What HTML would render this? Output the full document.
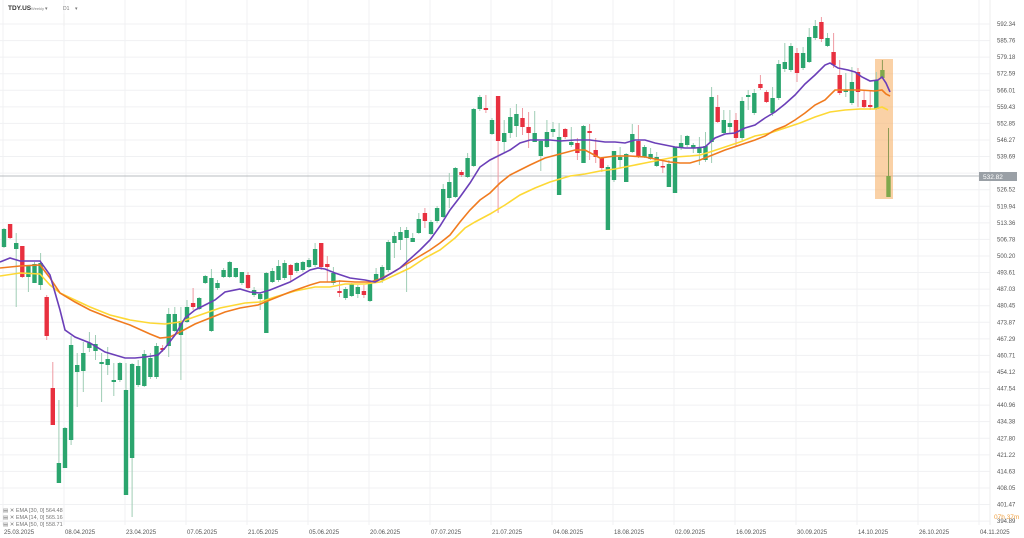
<!DOCTYPE html>
<html><head><meta charset="utf-8"><style>
html,body{margin:0;padding:0;background:#fff;}
svg{display:block;font-family:"Liberation Sans",sans-serif;}
</style></head><body>
<svg id="s" width="1024" height="538" viewBox="0 0 1024 538" xmlns="http://www.w3.org/2000/svg">
<rect width="1024" height="538" fill="#fff"/>
<g id="grid"></g>
<line x1="0" y1="176" x2="990" y2="176" stroke="#b9bcc0" stroke-width="1"/>
<rect x="875" y="59" width="18" height="140" fill="#f7b26b" opacity="0.6"/>
<g id="candles"></g>
<polyline id="yel" fill="none" stroke="#fdd835" stroke-width="1.6"/>
<polyline id="ora" fill="none" stroke="#f07b1f" stroke-width="1.6"/>
<polyline id="pur" fill="none" stroke="#6b3fb8" stroke-width="1.6"/>
<g id="axis" font-size="6" fill="#555"></g>
<rect x="979" y="172" width="38" height="9" fill="#9aa0a6"/>
<text x="983" y="179" font-size="6.5" fill="#fff">532.82</text>
<text x="8" y="10" font-size="6.5" font-weight="bold" fill="#333">TDY.US</text>
<text x="31" y="10" font-size="4" fill="#888">Weekly</text>
<text x="45" y="10" font-size="5" fill="#777">▾</text>
<text x="63" y="10" font-size="5" fill="#777">D1</text>
<text x="75" y="10" font-size="5" fill="#777">▾</text>
<line x1="64" y1="14" x2="64" y2="26" stroke="#eee"/>
<text x="3" y="512" font-size="5.5" fill="#777">▤ ✕ EMA [30, 0] 564.48</text>
<text x="3" y="519" font-size="5.5" fill="#777">▤ ✕ EMA [14, 0] 565.16</text>
<text x="3" y="526" font-size="5.5" fill="#777">▤ ✕ EMA [50, 0] 558.71</text>
<text x="994" y="519" font-size="6.5" fill="#f0a040">07h 37m</text>
</svg>
<script>
var NS="http://www.w3.org/2000/svg";
function el(t,a,p){var e=document.createElementNS(NS,t);for(var k in a)e.setAttribute(k,a[k]);p.appendChild(e);return e;}
var grid=document.getElementById('grid'),axis=document.getElementById('axis');
for(var k=0;k<=30;k++){var y=24+16.57*k;el('line',{x1:0,y1:y,x2:990,y2:y,stroke:'#f0f1f3','stroke-width':1},grid);
if(k==9)continue;var t=el('text',{x:997,y:y+2,'font-size':6},axis);t.textContent=(592.34-6.5817*k).toFixed(2);}
var dates=["25.03.2025","08.04.2025","23.04.2025","07.05.2025","21.05.2025","05.06.2025","20.06.2025","07.07.2025","21.07.2025","04.08.2025","18.08.2025","02.09.2025","16.09.2025","30.09.2025","14.10.2025","26.10.2025","04.11.2025"];
for(var i=0;i<dates.length;i++){var x=3+61*i;el('line',{x1:x,y1:0,x2:x,y2:525,stroke:'#f0f1f3'},grid);var t=el('text',{x:x+1,y:534,'font-size':6},axis);t.textContent=dates[i];}
el('line',{x1:990,y1:0,x2:990,y2:525,stroke:'#eee'},grid);
var C=[
['g',229,247,228,248],['r',224,238,224,239],['g',243,249,233,307],['r',246,277,246,278],['g',265,277,265,292],['g',264,283,262,283],['g',263,285,253,290],['r',297,336,295,340],['r',388,425,362,425],['g',463,483,400,483],
['g',428,468,427,468],['g',345,440,336,445],['g',365,372,353,407],['g',353,371,342,392],['g',343,348,332,352],['g',344,351,335,360],['g',362,364,353,402],['g',359,365,347,375],['g',380,382,363,396],['g',363,380,362,382],
['g',390,495,363,495],['g',364,458,363,517],['g',366,385,360,387],['g',354,386,350,387],['g',358,377,353,379],['g',346,377,343,379],['r',348,350,345,352],['g',314,346,308,357],['g',314,331,307,332],['g',321,335,307,380],
['g',307,322,300,323],['r',303,307,288,310],['g',298,309,297,310],['g',276,283,275,284],['g',278,331,269,332],['g',283,288,280,290],['g',270,277,268,278],['g',262,277,261,278],['g',268,277,268,278],['g',272,283,272,285],
['r',275,288,272,289],['g',290,295,287,297],['g',294,299,292,310],['g',273,333,272,333],['g',271,282,268,283],['g',266,280,260,282],['g',263,278,260,280],['r',265,275,264,282],['g',263,271,262,273],['g',262,270,261,272],
['g',260,267,258,268],['g',249,265,243,267],['r',243,267,243,270],['r',264,267,256,282],['g',273,283,267,285],['r',291,293,280,297],['g',289,298,287,300],['g',284,296,283,297],['g',287,294,285,298],['r',291,295,285,298],
['g',283,301,282,302],['g',274,280,268,282],['g',267,280,265,283],['g',242,270,240,272],['g',236,243,232,258],['g',232,240,227,250],['g',230,238,227,292],['g',238,242,233,242],['g',219,233,213,234],['r',213,221,208,228],
['g',222,234,220,235],['g',208,221,206,223],['g',189,217,184,218],['g',182,198,173,208],['g',168,197,167,198],['r',172,175,170,177],['g',158,177,153,178],['g',109,166,108,167],['g',97,109,95,111],['r',108,110,95,113],
['g',120,134,118,135],['r',96,141,96,213],['g',133,142,120,152],['g',117,133,108,138],['g',114,126,104,137],['r',118,127,108,135],['r',127,133,112,148],['g',133,142,111,142],['g',141,156,140,171],['g',132,147,120,148],
['g',129,132,122,137],['g',137,195,123,195],['r',129,137,128,139],['g',142,145,127,147],['r',143,153,138,160],['g',126,163,125,163],['r',131,133,124,160],['r',150,157,138,163],['r',158,168,157,172],['g',167,230,165,230],
['g',151,180,151,182],['g',157,160,147,168],['g',154,182,153,182],['g',134,152,124,153],['r',141,157,125,158],['g',147,157,145,158],['g',154,159,148,160],['g',157,166,152,167],['r',166,167,160,173],['g',164,187,160,187],
['g',147,193,147,193],['g',143,148,135,150],['g',136,145,135,147],['g',145,148,143,153],['g',147,153,137,165],['g',146,160,132,162],['g',97,142,87,163],['r',107,122,95,123],['g',120,133,110,134],['g',123,127,110,133],
['r',120,138,113,147],['g',101,138,97,140],['g',95,97,90,110],['g',93,113,89,115],['r',84,88,75,90],['r',92,102,90,103],['g',98,113,87,116],['g',64,98,60,100],['g',62,69,43,72],['g',46,70,43,72],
['r',53,73,48,82],['g',53,68,47,70],['g',37,62,28,63],['g',26,38,20,40],['r',22,39,17,42],['g',38,46,33,47],['r',52,65,33,68],['r',75,93,60,95],['g',90,92,73,97],['g',82,103,67,105],
['r',72,92,68,107],['r',100,107,90,108],['r',105,107,90,110],['g',80,109,72,110],['o',70,78,60,78],['o',176,197,128,197]];
var cg=document.getElementById('candles');
for(var i=0;i<C.length;i++){var c=C[i],x=4+i*6.1;
var col=c[0]=='g'?'#2ba56e':c[0]=='r'?'#e8303f':'#7fa84c';
var wc=c[0]=='g'?'#9fcdb5':c[0]=='r'?'#ee9aa2':'#8d9a55';
el('line',{x1:x,y1:c[3],x2:x,y2:c[4],stroke:wc,'stroke-width':1},cg);
el('rect',{x:x-2.2,y:c[1],width:4.4,height:Math.max(1.5,c[2]-c[1]),fill:col},cg);}
function P(id,a){var s=[];for(var i=0;i<a.length;i+=2)s.push(a[i]+','+a[i+1]);document.getElementById(id).setAttribute('points',s.join(' '));}
P('pur',[0,262,10,258,20,261,40,261,50,275,60,310,65,330,75,337,90,343,105,352,115,355,125,358,135,358,145,357,158,355,165,348,175,335,185,318,195,310,205,305,215,300,225,292,240,289,250,292,260,293,270,290,290,282,310,270,318,268,325,269,335,273,350,278,365,280,375,282,385,277,400,268,410,259,420,250,430,240,440,226,450,210,460,197,470,183,480,167,490,160,500,155,510,150,520,143,530,140,540,140,550,140,560,141,575,140,590,140,605,142,615,142,625,143,635,140,645,140,655,143,665,145,675,147,685,148,695,148,705,147,715,138,725,134,735,133,745,128,755,125,765,118,775,112,785,104,795,95,805,84,815,75,825,65,830,63,838,68,848,70,855,72,862,77,870,81,878,80,882,77,886,83,890,92]);
P('ora',[0,268,20,266,40,265,50,278,60,293,75,302,90,310,110,318,130,325,150,334,160,338,170,337,180,332,195,324,210,318,225,312,240,308,258,305,270,300,290,292,310,285,320,282,330,282,340,281,355,282,370,282,380,279,390,274,400,268,410,262,420,256,430,250,440,243,450,235,460,222,470,210,480,200,490,193,500,183,510,175,520,170,530,165,545,158,560,154,575,150,585,150,600,158,615,156,630,156,645,157,660,160,670,162,680,163,690,163,700,160,710,156,725,150,740,145,755,140,765,136,775,130,785,126,795,120,805,113,815,105,825,100,835,90,845,90,860,90,875,91,882,90,886,94,890,96]);
P('yel',[0,276,20,273,40,274,50,285,60,293,75,300,90,307,110,315,130,320,150,323,165,324,180,322,200,315,220,308,245,303,260,302,275,297,295,291,315,287,330,287,345,284,365,284,380,282,395,275,410,268,425,258,440,250,455,238,465,228,475,222,490,214,505,205,520,195,535,188,550,182,570,176,585,174,600,171,615,169,630,166,645,163,660,160,675,157,690,156,700,155,710,152,725,147,740,142,755,136,770,133,785,128,800,123,815,117,830,112,845,110,860,109,875,109,882,107,888,110]);
</script>
</body></html>
